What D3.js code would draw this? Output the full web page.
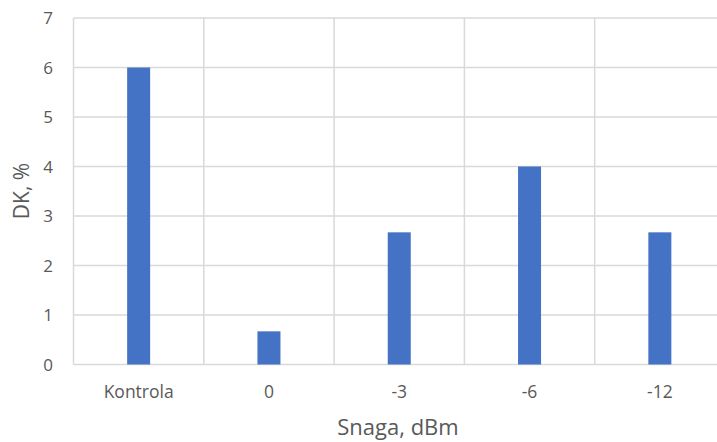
<!DOCTYPE html>
<html><head><meta charset="utf-8">
<script src="https://cdn.jsdelivr.net/npm/d3@7"></script>
<style>body{margin:0;background:#fff}svg{display:block}</style>
</head><body>
<script>
const categories = ["Kontrola", "0", "-3", "-6", "-12"];
const values = [6, 0.67, 2.67, 4, 2.67];
const yTicks = [0, 1, 2, 3, 4, 5, 6, 7];
const xTitle = "Snaga, dBm";
const yTitle = "DK, %";

const W = 717, H = 442;
const m = {left: 73.5, top: 18, right: -8, bottom: 77.5};
const svg = d3.select("body").append("svg").attr("width", W).attr("height", H);
const font = "'Open Sans', sans-serif";

const x = d3.scaleBand().domain(categories).range([m.left, W - m.right]).paddingInner(0).paddingOuter(0);
const y = d3.scaleLinear().domain([0, 7]).range([H - m.bottom, m.top]);

// horizontal gridlines
svg.append("g").selectAll("line").data(yTicks).join("line")
  .attr("x1", m.left).attr("x2", W - m.right)
  .attr("y1", d => y(d)).attr("y2", d => y(d))
  .attr("stroke", "#d9d9d9").attr("stroke-width", 1.5);
// vertical gridlines
const bounds = categories.map(c => x(c)).concat([x(categories[categories.length-1]) + x.bandwidth()]);
svg.append("g").selectAll("line").data(bounds).join("line")
  .attr("x1", d => d).attr("x2", d => d)
  .attr("y1", y(7)).attr("y2", y(0))
  .attr("stroke", "#d9d9d9").attr("stroke-width", 1.5);

// bars
const bw = 23;
svg.append("g").selectAll("rect").data(values).join("rect")
  .attr("x", (d, i) => x(categories[i]) + x.bandwidth() / 2 - bw / 2)
  .attr("width", bw)
  .attr("y", d => y(d))
  .attr("height", d => y(0) - y(d))
  .attr("fill", "#4472c4");

// y axis labels
const yAxis = d3.axisLeft(y).tickValues(yTicks).tickSize(0).tickPadding(0).tickFormat(d3.format("d"));
const ya = svg.append("g").attr("transform", `translate(53,0)`).call(yAxis);
ya.select(".domain").remove();
ya.selectAll("text").attr("font-family", font).attr("font-size", 17).attr("fill", "#595959").attr("dy", "0.35em");

// x axis labels
const xAxis = d3.axisBottom(x).tickSize(0).tickPadding(0);
const xa = svg.append("g").attr("transform", `translate(0,${y(0) + 21})`).call(xAxis);
xa.select(".domain").remove();
xa.selectAll("text").attr("font-family", font).attr("font-size", 17.5).attr("fill", "#595959").attr("dy", "0.71em");

// titles
svg.append("text").attr("x", 398).attr("y", 435).attr("text-anchor", "middle")
  .attr("font-family", font).attr("font-size", 22).attr("fill", "#595959").text(xTitle);
svg.append("text").attr("transform", "translate(29,191) rotate(-90)").attr("text-anchor", "middle")
  .attr("font-family", font).attr("font-size", 21).attr("fill", "#595959").text(yTitle);
</script>
</body></html>
